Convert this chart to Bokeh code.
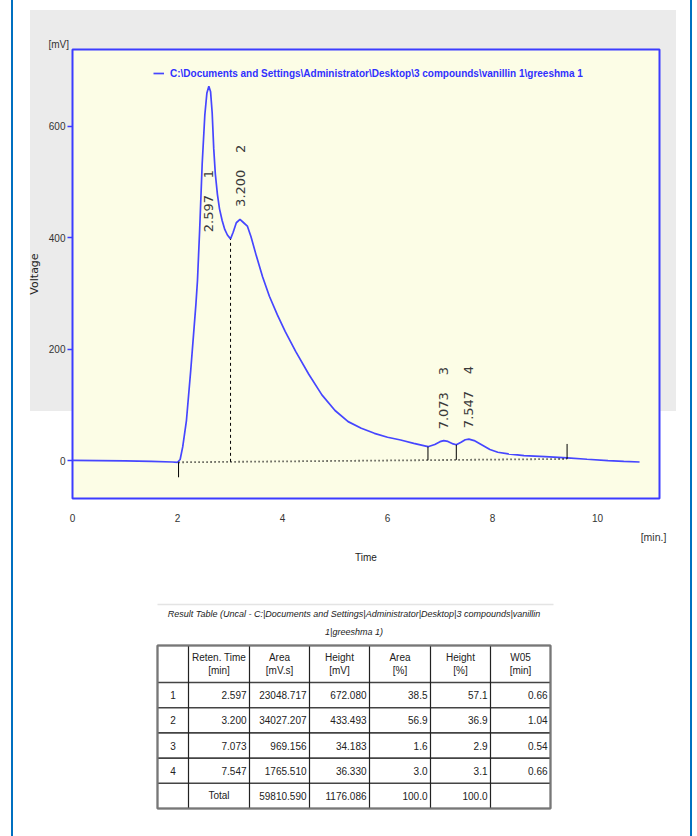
import numpy as np
from bokeh.plotting import figure
from bokeh.models import (Range1d, FixedTicker, Legend, LegendItem, LinearAxis, Title)
from bokeh.layouts import column
from bokeh.core.properties import value
from bokeh.embed import file_html
from bokeh.resources import INLINE

# ---------------- data ----------------
time_min = [0.00, 0.50, 1.00, 1.50, 1.90, 2.00, 2.05, 2.10, 2.17, 2.25, 2.30, 2.35,
            2.38, 2.42, 2.47, 2.52, 2.56, 2.597, 2.63, 2.66, 2.69, 2.72, 2.76, 2.80,
            2.85, 2.90, 2.95, 3.01, 3.06, 3.12, 3.19, 3.26, 3.33, 3.40, 3.50, 3.62,
            3.75, 3.90, 4.05, 4.25, 4.50, 4.75, 5.00, 5.25, 5.50, 5.75, 6.00, 6.25,
            6.50, 6.77, 6.90, 7.00, 7.07, 7.15, 7.25, 7.31, 7.40, 7.48, 7.55, 7.65,
            7.80, 7.95, 8.10, 8.30, 8.60, 9.00, 9.42, 9.80, 10.20, 10.50, 10.80]
voltage_mv = [0.5, 0.0, -0.5, -1.5, -2.5, -3.0, 2, 25, 72, 160, 220, 280,
              323, 410, 533, 620, 660, 672, 662, 625, 560, 515, 478, 452,
              431, 415, 405, 398, 410, 427, 433, 427, 421, 402, 368, 330,
              295, 262, 232, 196, 155, 118, 90, 70, 58, 49, 42, 37,
              31, 25, 29, 34, 36, 34.5, 30, 28.5, 33, 37.5, 38.5, 36,
              28, 20, 15, 12, 9, 7, 5, 2.5, 0, -1.5, -2.5]

peak_ids = [1, 2, 3, 4]
ret_time = [2.597, 3.200, 7.073, 7.547]
area = [23048.717, 34027.207, 969.156, 1765.510]
height = [672.080, 433.493, 34.183, 36.330]
area_pct = [38.5, 56.9, 1.6, 3.0]
height_pct = [57.1, 36.9, 2.9, 3.1]
w05 = [0.66, 1.04, 0.54, 0.66]

boundary_times = [2.02, 3.01, 6.77, 7.31, 9.42]
baseline_time = [2.02, 9.42]
baseline_mv = [-3.0, 3.0]

x_ticks = [0, 2, 4, 6, 8, 10]
y_ticks = [0, 200, 400, 600]
x_unit_label = "[min.]"
y_unit_label = "[mV]"

legend_text = "C:\\Documents and Settings\\Administrator\\Desktop\\3 compounds\\vanillin 1\\greeshma 1"
table_title_1 = "Result Table (Uncal - C:|Documents and Settings|Administrator|Desktop|3 compounds|vanillin"
table_title_2 = "1|greeshma 1)"
headers_top = ["Reten. Time", "Area", "Height", "Area", "Height", "W05"]
headers_bot = ["[min]", "[mV.s]", "[mV]", "[%]", "[%]", "[min]"]

# ---------------- styles ----------------
SANS = "Liberation Sans"
BLUE = "#4646ff"
FRAME_BLUE = "#3c3cff"
PAGE_BLUE = "#0070c0"
GRAY = "#ebebeb"
X_MAX, Y_MIN, Y_MAX = 11.18, -68, 738
W = 697
H1, H2 = 580, 256
F_LEFT, F_RIGHT, F_TOP, F_BOTTOM = 72, 659, 49, 498

# ---------------- chart figure ----------------
p = figure(width=W, height=H1, x_range=Range1d(0, X_MAX), y_range=Range1d(Y_MIN, Y_MAX),
           output_backend="svg", toolbar_location=None,
           min_border_left=F_LEFT, min_border_right=W - F_RIGHT,
           min_border_top=F_TOP, min_border_bottom=H1 - F_BOTTOM,
           background_fill_color="#fcfde6", border_fill_color=None,
           outline_line_color=FRAME_BLUE, outline_line_width=2)
p.grid.visible = False
px_per_mv = (F_BOTTOM - F_TOP) / (Y_MAX - Y_MIN)
px_per_min = (F_RIGHT - F_LEFT) / X_MAX

# y unit label as a title at the top-left
p.title = Title(text=y_unit_label, align="left", offset=-24, standoff=0,
                text_font=SANS, text_font_size="10px", text_font_style="normal",
                text_color="#333333")

# axes
xa = p.xaxis[0]
xa.ticker = FixedTicker(ticks=x_ticks)
xa.major_tick_out = 0
xa.major_tick_in = 0
xa.minor_tick_out = 0
xa.minor_tick_in = 0
xa.axis_line_color = None
xa.major_label_standoff = 15
xa.major_label_text_font = SANS
xa.major_label_text_font_size = "10px"
xa.major_label_text_color = "#333333"

# second bottom axis carrying the unit and the axis title
unit_x = (653 - F_LEFT) / px_per_min
xa2 = LinearAxis(ticker=FixedTicker(ticks=[unit_x]),
                 major_label_overrides={unit_x: x_unit_label},
                 major_tick_out=0, major_tick_in=0, minor_tick_out=0, minor_tick_in=0,
                 axis_line_color=None, major_label_standoff=6,
                 major_label_text_font=SANS, major_label_text_font_size="10.5px",
                 major_label_text_color="#333333",
                 axis_label="Time", axis_label_text_font=SANS,
                 axis_label_text_font_size="10px", axis_label_text_font_style="normal",
                 axis_label_text_color="#222222", axis_label_standoff=6)
p.add_layout(xa2, "below")

ya = p.yaxis[0]
ya.ticker = FixedTicker(ticks=y_ticks)
ya.major_tick_out = 5
ya.major_tick_in = 0
ya.minor_tick_out = 0
ya.minor_tick_in = 0
ya.major_tick_line_color = FRAME_BLUE
ya.major_tick_line_width = 1.5
ya.axis_line_color = None
ya.major_label_standoff = 2
ya.major_label_text_font = SANS
ya.major_label_text_font_size = "10px"
ya.major_label_text_color = "#333333"
ya.axis_label = "Voltage"
ya.axis_label_text_font = "DejaVu Sans"
ya.axis_label_text_font_size = "11px"
ya.axis_label_text_font_style = "normal"
ya.axis_label_text_color = "#222222"
ya.axis_label_standoff = 5

# curve
curve = p.line(time_min, voltage_mv, line_color=BLUE, line_width=1.7)

# integration baseline (dotted)
p.line(baseline_time, baseline_mv, line_color="black", line_width=1.8, line_dash="1 3")

def base_at(t):
    return float(np.interp(t, baseline_time, baseline_mv))

def curve_at(t):
    return float(np.interp(t, time_min, voltage_mv))

mark_len = 15 / px_per_mv
# start / end marks
p.segment(x0=[boundary_times[0]], y0=[base_at(boundary_times[0])],
          x1=[boundary_times[0]], y1=[base_at(boundary_times[0]) - mark_len],
          line_color="black", line_width=1)
p.segment(x0=[boundary_times[-1]], y0=[base_at(boundary_times[-1])],
          x1=[boundary_times[-1]], y1=[base_at(boundary_times[-1]) + mark_len],
          line_color="black", line_width=1)
# drop line between merged peaks 1 & 2 (dashed)
p.segment(x0=[boundary_times[1]], y0=[base_at(boundary_times[1])],
          x1=[boundary_times[1]], y1=[curve_at(boundary_times[1])],
          line_color="black", line_width=1, line_dash="3 3")
# drop lines between peaks 3 & 4
inner = boundary_times[2:4]
p.segment(x0=inner, y0=[base_at(t) for t in inner],
          x1=inner, y1=[curve_at(t) for t in inner],
          line_color="black", line_width=1)

# peak labels (rotated): retention time, then peak number further up
label_base = []
for h in height:
    label_base.append(h + 22 if h + 22 + 130 < Y_MAX else h - 262)
id_base = [b + 54 / px_per_mv for b in label_base]
p.text(x=ret_time, y=label_base, text=[f"{rt:.3f}" for rt in ret_time], angle=np.pi / 2,
       text_align="left", text_baseline="middle",
       text_font=value("DejaVu Sans"), text_font_size="13px", text_color="#3a3a3a")
p.text(x=ret_time, y=id_base, text=[str(i) for i in peak_ids], angle=np.pi / 2,
       text_align="left", text_baseline="middle",
       text_font=value("DejaVu Sans"), text_font_size="13px", text_color="#3a3a3a")

# legend
legend = Legend(items=[LegendItem(label=legend_text, renderers=[curve])],
                location=(81, 419), padding=0, margin=0, spacing=0,
                glyph_width=11, glyph_height=12, label_height=12, label_standoff=6,
                background_fill_alpha=0, border_line_color=None,
                label_text_font=SANS, label_text_font_style="bold",
                label_text_font_size="10px", label_text_color="#3030ff")
p.add_layout(legend)

# ---------------- table figure ----------------
t = figure(width=W, height=H2, x_range=Range1d(F_LEFT, F_RIGHT), y_range=Range1d(H2, 0),
           output_backend="svg", toolbar_location=None,
           min_border_left=F_LEFT, min_border_right=W - F_RIGHT,
           min_border_top=0, min_border_bottom=0,
           x_axis_type=None, y_axis_type=None, outline_line_color=None,
           background_fill_color=None, border_fill_color=None)
t.grid.visible = False

col_edges = [157, 188, 249, 309, 369, 430, 490, 550]
head_top, head_bot, row_h = 65, 102, 25.2
n_rows = len(peak_ids) + 1
row_edges = [head_top, head_bot] + [head_bot + row_h * (k + 1) for k in range(n_rows)]
FS = "10px"

# faint rule and title
t.segment(x0=[157], y0=[24], x1=[553], y1=[24], line_color="#e4e4e4", line_width=1.5)
tcx = (col_edges[0] + col_edges[-1]) / 2
t.text(x=[tcx, tcx], y=[33, 51], text=[table_title_1, table_title_2],
       text_align="center", text_baseline="middle",
       text_font=value(SANS), text_font_style="italic", text_font_size="9px",
       text_color="#222222")

# grid lines
t.segment(x0=[col_edges[0]] * len(row_edges), y0=row_edges,
          x1=[col_edges[-1]] * len(row_edges), y1=row_edges,
          line_color="#444444", line_width=1.6)
t.segment(x0=col_edges, y0=[row_edges[0]] * len(col_edges),
          x1=col_edges, y1=[row_edges[-1]] * len(col_edges),
          line_color="#222222", line_width=1.2)
t.rect(x=[tcx], y=[(row_edges[0] + row_edges[-1]) / 2],
       width=[col_edges[-1] - col_edges[0]], height=[row_edges[-1] - row_edges[0]],
       fill_color=None, line_color="#777777", line_width=2.2)

# header
hx = [(col_edges[k] + col_edges[k + 1]) / 2 for k in range(1, 7)]
t.text(x=hx, y=[head_top + 12] * 6, text=headers_top, text_align="center",
       text_baseline="middle", text_font=value(SANS), text_font_size=FS,
       text_color="#222222")
t.text(x=hx, y=[head_top + 25] * 6, text=headers_bot, text_align="center",
       text_baseline="middle", text_font=value(SANS), text_font_size=FS,
       text_color="#222222")

# body
columns_vals = [
    [f"{v:.3f}" for v in ret_time],
    [f"{v:.3f}" for v in area],
    [f"{v:.3f}" for v in height],
    [f"{v:.1f}" for v in area_pct],
    [f"{v:.1f}" for v in height_pct],
    [f"{v:.2f}" for v in w05],
]
row_cy = [head_bot + row_h * (k + 0.5) for k in range(n_rows)]
idx_x = (col_edges[0] + col_edges[1]) / 2
t.text(x=[idx_x] * len(peak_ids), y=row_cy[:len(peak_ids)], text=[str(i) for i in peak_ids],
       text_align="center", text_baseline="middle", text_font=value(SANS),
       text_font_size=FS, text_color="#222222")
xs, ys, txts = [], [], []
for k, vals in enumerate(columns_vals):
    for r, s in enumerate(vals):
        xs.append(col_edges[k + 2] - 3)
        ys.append(row_cy[r])
        txts.append(s)
t.text(x=xs, y=ys, text=txts, text_align="right", text_baseline="middle",
       text_font=value(SANS), text_font_size=FS, text_color="#222222")

totals = [f"{sum(area):.3f}", f"{sum(height):.3f}", f"{sum(area_pct):.1f}",
          f"{sum(height_pct):.1f}"]
t.text(x=[hx[0]], y=[row_cy[-1]], text=["Total"], text_align="center",
       text_baseline="middle", text_font=value(SANS), text_font_size=FS,
       text_color="#222222")
t.text(x=[col_edges[k] - 3 for k in range(3, 7)], y=[row_cy[-1]] * 4, text=totals,
       text_align="right", text_baseline="middle", text_font=value(SANS),
       text_font_size=FS, text_color="#222222")

page_bg = (f"linear-gradient({PAGE_BLUE},{PAGE_BLUE}) 11px 0 / 2px 100% no-repeat, "
           f"linear-gradient({PAGE_BLUE},{PAGE_BLUE}) 690px 0 / 2px 100% no-repeat, "
           f"linear-gradient({GRAY},{GRAY}) 30px 10px / 646px 401px no-repeat, #ffffff")
layout = column(p, t, spacing=0, styles={"background": page_bg})
open("out.html", "w").write(file_html(layout, INLINE))
